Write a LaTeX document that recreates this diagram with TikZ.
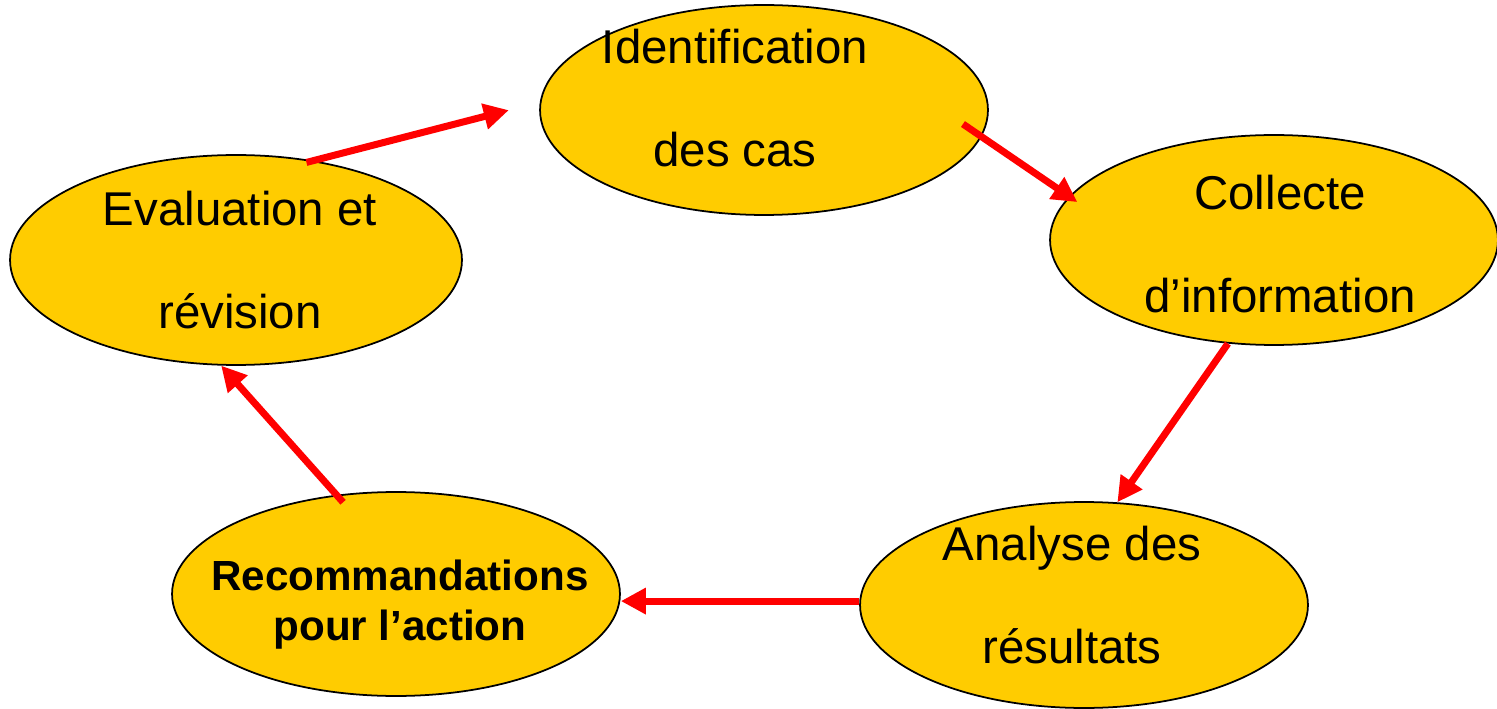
\documentclass[tikz,border=0pt]{standalone}
\usepackage{fontspec}
\setmainfont{Liberation Sans}
\usepackage{xcolor}
\usetikzlibrary{arrows.meta, shapes.geometric, calc}
\definecolor{stageyellow}{HTML}{FFCC00}

\begin{document}
\begin{tikzpicture}[
    x=0.02cm, y=-0.02cm,
    stage/.style={draw, ellipse, line width=1pt, fill=stageyellow, minimum width=8.96cm, minimum height=4.2cm},
    lbl/.style={align=center, inner sep=0pt, font=\fontsize{27}{58.6}\selectfont},
    lblb/.style={align=center, inner sep=0pt, font=\fontsize{24}{28.5}\selectfont\bfseries},
    arr/.style={red, line width=0.14cm, -{Triangle[length=0.5cm, width=0.5cm]}}]
  \path[use as bounding box] (0,0) rectangle (1497,709);
  % the five stages
  \node[stage] (I) at (764,110) {};
  \node[stage] (C) at (1274,240) {};
  \node[stage, minimum height=4.12cm] (A) at (1084,605) {};
  \node[stage, minimum height=4.08cm] (R) at (396,594) {};
  \node[stage, minimum width=9.04cm] (E) at (236,260) {};
  \node[lbl] (It) at (735,98) {Identification\\des cas};
  \node[lbl] (Ct) at (1280,244) {Collecte\\d’information};
  \node[lbl] (At) at (1072,595) {Analyse des\\résultats};
  \node[lblb] (Rt) at (400,605) {Recommandations\\pour l’action};
  \node[lbl] (Et) at (240,260) {Evaluation et\\révision};
  % the cycle
  \draw[arr, shorten <=-0.15cm, shorten >=0.64cm] (E.52) -- (I.178);
  \draw[arr, shorten <=-0.45cm, shorten >=-0.2cm] (I.-7) -- (C.168);
  \draw[arr] (C.246) -- (A.72);
  \draw[arr] (A.179) -- (A.179 -| R.east);
  \draw[arr, shorten <=-0.2cm] (R.121) -- (E.262);
\end{tikzpicture}
\end{document}
